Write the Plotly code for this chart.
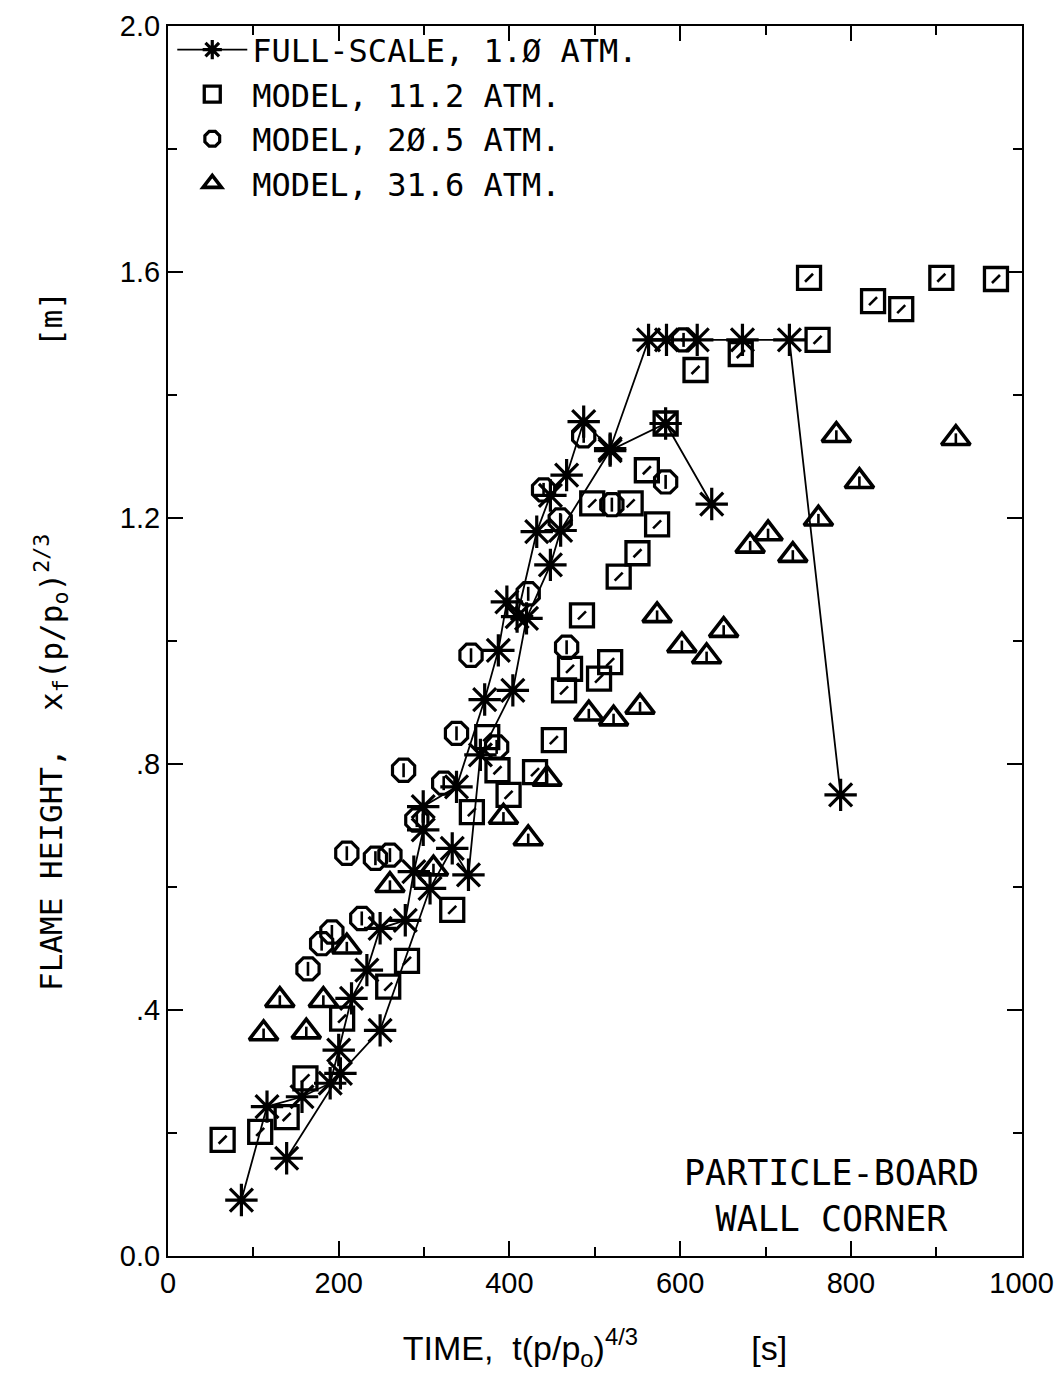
import plotly.graph_objects as go

# ---- Full-scale test, 1.0 atm (two burn records, each drawn as a connected run)
fs_run1_t = [86, 116, 157, 190, 200, 215, 233, 248.5, 278, 288, 299, 299, 338, 371,
             387, 397, 409, 432, 448, 467, 487, 518, 563, 584, 620, 673, 728, 788]
fs_run1_h = [0.091, 0.243, 0.259, 0.281, 0.335, 0.419, 0.465, 0.533, 0.546, 0.625,
             0.693, 0.731, 0.763, 0.905, 0.985, 1.064, 1.04, 1.178, 1.237, 1.27,
             1.357, 1.313, 1.49, 1.49, 1.49, 1.49, 1.49, 0.75]
fs_run2_t = [139, 202, 248.5, 307, 333, 352, 366, 404, 420, 448, 460, 518, 583, 637]
fs_run2_h = [0.159, 0.297, 0.367, 0.598, 0.663, 0.62, 0.815, 0.92, 1.037, 1.124,
             1.18, 1.31, 1.354, 1.223]

# ---- Model, 11.2 atm
m112_t = [64, 108, 139, 161, 204, 258, 280, 333, 356, 374, 386, 399, 430, 452, 464,
          471, 485, 497, 505, 518, 528, 542, 550, 561, 573, 583, 618, 671, 751, 761,
          826, 859, 906, 970]
m112_h = [0.189, 0.202, 0.226, 0.289, 0.386, 0.438, 0.48, 0.563, 0.722, 0.844, 0.79,
          0.75, 0.787, 0.839, 0.92, 0.955, 1.042, 1.224, 0.939, 0.966, 1.105, 1.224,
          1.143, 1.278, 1.19, 1.354, 1.441, 1.467, 1.591, 1.49, 1.553, 1.54, 1.591,
          1.589]

# ---- Model, 20.5 atm
m205_t = [164, 180, 192, 209.5, 227, 243, 260, 276, 291.5, 323, 338, 355, 385, 422,
          440, 459.5, 467, 487, 520, 583, 604]
m205_h = [0.467, 0.508, 0.527, 0.655, 0.549, 0.647, 0.652, 0.79, 0.709, 0.769, 0.85,
          0.977, 0.828, 1.077, 1.246, 1.197, 0.99, 1.334, 1.222, 1.259, 1.49]

# ---- Model, 31.6 atm
m316_t = [112, 131, 162, 182, 209.5, 260, 311, 393, 422, 444, 493, 522, 553, 573, 602,
          631, 651, 682, 703, 732, 762, 783, 810, 923]
m316_h = [0.362, 0.416, 0.365, 0.416, 0.503, 0.603, 0.63, 0.714, 0.679, 0.776, 0.882,
          0.874, 0.893, 1.042, 0.993, 0.975, 1.018, 1.155, 1.175, 1.14, 1.199, 1.335,
          1.26, 1.33]

# ---- axis labelling
x_ticks = [0, 200, 400, 600, 800, 1000]
x_ticktext = ["0", "200", "400", "600", "800", "1000"]
y_ticks = [0.0, 0.4, 0.8, 1.2, 1.6, 2.0]
y_ticktext = ["0.0", ".4", ".8", "1.2", "1.6", "2.0"]

series_names = ["FULL-SCALE, 1.Ø ATM.", "MODEL, 11.2 ATM.",
                "MODEL, 2Ø.5 ATM.", "MODEL, 31.6 ATM."]

INK = "black"
LABEL_FONT = "Liberation Sans, Arial, sans-serif"
PLOTTER_FONT = "DejaVu Sans Mono, Liberation Mono, monospace"

fig = go.Figure()


def outline(symbol, size, width):
    return dict(symbol=symbol, size=size, color=INK,
                line=dict(color=INK, width=width))


# model series: outline marker plus a small inner stroke
model_specs = [
    (m112_t, m112_h, series_names[1], "square-open", 23, 3.3, "line-ne-open", 8, 2),
    (m205_t, m205_h, series_names[2], "octagon-open", 24, 3.2, "line-ns-open", 10, 3),
    (m316_t, m316_h, series_names[3], "triangle-up-open", 25, 3.6, "line-ns-open", 7, 4),
]
for t, h, name, sym, size, lw, inner, inner_size, rank in model_specs:
    fig.add_trace(go.Scatter(
        x=t, y=h, mode="markers", name=name, legendgroup=name, legendrank=rank,
        marker=outline(sym, size, lw), cliponaxis=False))
    fig.add_trace(go.Scatter(
        x=t, y=h, mode="markers", legendgroup=name, showlegend=False,
        hoverinfo="skip",
        marker=outline(inner, inner_size, 2.6), cliponaxis=False))

# full-scale runs
for i, (t, h) in enumerate([(fs_run1_t, fs_run1_h), (fs_run2_t, fs_run2_h)]):
    fig.add_trace(go.Scatter(
        x=t, y=h, mode="lines+markers", name=series_names[0],
        legendgroup="full", legendrank=1, showlegend=(i == 0),
        line=dict(color=INK, width=1.8),
        marker=dict(symbol="asterisk-open", size=27, color=INK,
                    line=dict(color=INK, width=3.2)),
        cliponaxis=False))

fig.add_annotation(
    text="PARTICLE-BOARD<br>WALL CORNER", xref="paper", yref="paper",
    x=0.777, y=0.012, xanchor="center", yanchor="bottom", align="center",
    showarrow=False, font=dict(family=PLOTTER_FONT, size=35, color=INK))

axis_common = dict(
    showline=True, linecolor=INK, linewidth=2.2, mirror="ticks",
    ticks="inside", ticklen=15, tickwidth=2.2, tickcolor=INK,
    showgrid=False, zeroline=False, ticklabeloverflow="allow",
    automargin=False,
    tickfont=dict(family=LABEL_FONT, size=29, color=INK),
)

fig.update_xaxes(
    range=[0, 1000.5], tickvals=x_ticks, ticktext=x_ticktext,
    minor=dict(dtick=100, tick0=0, ticks="inside", ticklen=9, tickwidth=2,
               tickcolor=INK, showgrid=False),
    title=dict(text="TIME,  t(p/p<sub>o</sub>)<sup>4/3</sup>"
                    "\u00a0\u00a0\u00a0\u00a0\u00a0\u00a0\u00a0\u00a0\u00a0\u00a0\u00a0\u00a0[s]",
               font=dict(family=LABEL_FONT, size=34, color=INK), standoff=38),
    **axis_common)

fig.update_yaxes(
    range=[0, 2.0005], tickvals=y_ticks, ticktext=y_ticktext,
    minor=dict(dtick=0.2, tick0=0, ticks="inside", ticklen=9, tickwidth=2,
               tickcolor=INK, showgrid=False),
    title=dict(text="FLAME HEIGHT,  x<sub>f</sub>(p/p<sub>o</sub>)<sup>2/3</sup>"
                    "\u00a0\u00a0\u00a0\u00a0\u00a0\u00a0\u00a0\u00a0\u00a0\u00a0[m]",
               font=dict(family=PLOTTER_FONT, size=31, color=INK), standoff=48),
    **axis_common)

fig.update_layout(
    width=1054, height=1389,
    margin=dict(l=168, r=32, t=26, b=133),
    paper_bgcolor="white", plot_bgcolor="white",
    showlegend=True,
    legend=dict(x=0.005, y=1.003, xanchor="left", yanchor="top",
                bgcolor="rgba(0,0,0,0)", borderwidth=0, itemwidth=70,
                tracegroupgap=0,
                font=dict(family=PLOTTER_FONT, size=32, color=INK)),
)

fig.write_html("out.html")
